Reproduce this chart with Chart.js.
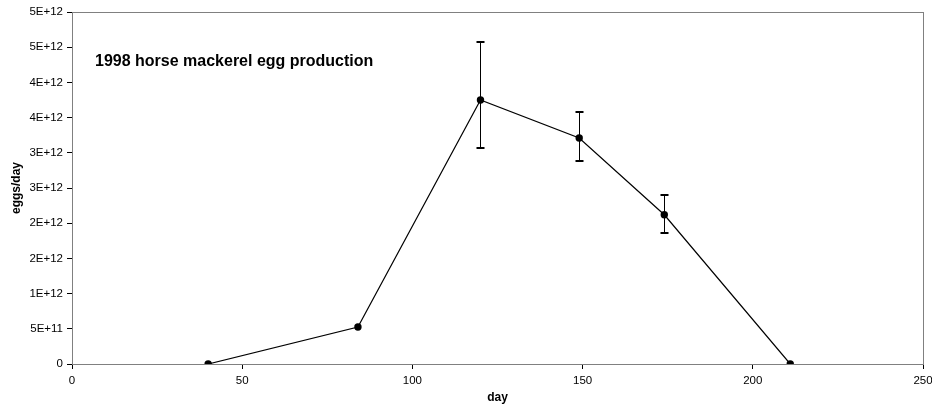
<!DOCTYPE html>
<html>
<head>
<meta charset="utf-8">
<script src="https://cdn.jsdelivr.net/npm/chart.js@4"></script>
<style>
  html, body { margin: 0; padding: 0; background: #fff; }
  canvas { display: block; }
</style>
</head>
<body>
<canvas id="eggChart" width="932" height="416"></canvas>
<script>
/* 1998 horse mackerel egg production */
const days = [40, 84, 120, 149, 174, 211];
const eggs = [0, 5.26e11, 3.75e12, 3.21e12, 2.12e12, 0];
const errLow = [null, null, 3.07e12, 2.88e12, 1.86e12, null];
const errHigh = [null, null, 4.58e12, 3.58e12, 2.40e12, null];

const chartTitle = '1998 horse mackerel egg production';
const xTitle = 'day';
const yTitle = 'eggs/day';

const FONT = '"Liberation Sans", Arial, sans-serif';

// plot area frame (grey top/right edge like the original)
const frame = {
  id: 'frame',
  beforeDatasetsDraw(chart) {
    const { ctx, chartArea: a } = chart;
    ctx.save();
    ctx.strokeStyle = '#808080';
    ctx.lineWidth = 1;
    ctx.strokeRect(Math.round(a.left) + 0.5, Math.round(a.top) + 0.5,
      Math.round(a.right - a.left), Math.round(a.bottom - a.top));
    ctx.restore();
  }
};

// vertical error bars from errLow / errHigh
const errorBars = {
  id: 'errorBars',
  afterDatasetsDraw(chart) {
    const { ctx, scales: { x, y } } = chart;
    ctx.save();
    ctx.strokeStyle = '#000';
    days.forEach((d, i) => {
      if (errLow[i] == null) return;
      const px = Math.round(x.getPixelForValue(d)) + 0.5;
      const lo = Math.round(y.getPixelForValue(errLow[i]));
      const hi = Math.round(y.getPixelForValue(errHigh[i]));
      ctx.lineWidth = 1;
      ctx.beginPath();
      ctx.moveTo(px, lo); ctx.lineTo(px, hi);
      ctx.stroke();
      ctx.lineWidth = 2;
      ctx.beginPath();
      ctx.moveTo(px - 4, lo); ctx.lineTo(px + 4, lo);
      ctx.moveTo(px - 4, hi); ctx.lineTo(px + 4, hi);
      ctx.stroke();
    });
    ctx.restore();
  }
};

// title sits inside the plot area
const innerTitle = {
  id: 'innerTitle',
  afterDraw(chart) {
    const { ctx } = chart;
    ctx.save();
    ctx.fillStyle = '#000';
    ctx.font = 'bold 16px ' + FONT;
    ctx.textBaseline = 'middle';
    ctx.textAlign = 'left';
    ctx.fillText(chartTitle, 95, 62);
    ctx.restore();
  }
};

new Chart(document.getElementById('eggChart'), {
  type: 'scatter',
  data: {
    datasets: [{
      data: days.map((d, i) => ({ x: d, y: eggs[i] })),
      showLine: true,
      borderColor: '#000',
      borderWidth: 1.2,
      pointRadius: 3.7,
      pointBackgroundColor: '#000',
      pointBorderWidth: 0,
      tension: 0
    }]
  },
  options: {
    responsive: false,
    animation: false,
    devicePixelRatio: 1,
    layout: { padding: { top: 12, right: 9, bottom: 0, left: 0 } },
    plugins: { legend: { display: false }, tooltip: { enabled: false } },
    scales: {
      x: {
        type: 'linear',
        min: 0,
        max: 250,
        // let the last label run off the edge like the original
        afterFit: s => { s.height = 52; s.paddingLeft = 0; s.paddingRight = 0; },
        ticks: { stepSize: 50, color: '#000', padding: 5, maxRotation: 0,
          font: { family: FONT, size: 11.5 } },
        grid: { drawOnChartArea: false, drawTicks: true, tickLength: 5, color: '#000' },
        border: { display: true, color: '#000', width: 1 },
        title: { display: true, text: xTitle, color: '#000', padding: { top: 0, bottom: 11 },
          font: { family: FONT, size: 12, weight: 'bold' } }
      },
      y: {
        min: 0,
        max: 5e12,
        afterFit: s => { s.width = 72; },
        ticks: {
          stepSize: 5e11, color: '#000', padding: 4,
          font: { family: FONT, size: 11.5 },
          callback: v => v === 0 ? '0' : Number(v).toExponential(0).toUpperCase()
        },
        grid: { drawOnChartArea: false, drawTicks: true, tickLength: 5, color: '#000' },
        border: { display: true, color: '#000', width: 1 },
        title: { display: true, text: yTitle, color: '#000', padding: { top: 9, bottom: 0 },
          font: { family: FONT, size: 12, weight: 'bold' } }
      }
    }
  },
  plugins: [frame, errorBars, innerTitle]
});
</script>
</body>
</html>
